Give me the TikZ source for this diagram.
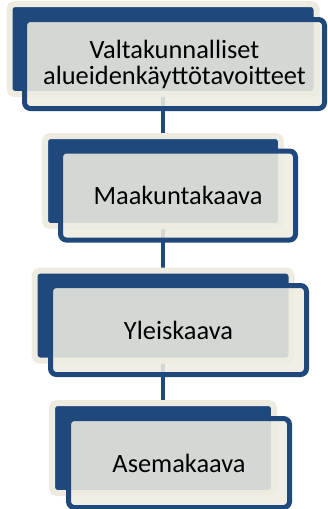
\documentclass[tikz,border=0pt]{standalone}
\usepackage{fontspec}
\setmainfont{Carlito}
\usepackage{xcolor}
\usetikzlibrary{backgrounds}
\definecolor{stepblue}{HTML}{1F497D}
\definecolor{stepcream}{HTML}{EEECE1}

\begin{document}
\begin{tikzpicture}[x=1pt,y=-1pt,
    backbox/.style={draw=stepcream, line width=6pt, fill=stepblue, rounded corners=5pt,
        minimum height=90pt, inner sep=0pt},
    frontbox/.style={draw=stepblue, line width=5pt, fill=stepcream, fill opacity=0.88,
        text opacity=1, rounded corners=6pt, minimum height=89pt, inner sep=0pt,
        align=center, font=\fontsize{26.4}{26}\selectfont},
    link/.style={draw=stepblue, line width=4.5pt}]
    \useasboundingbox (0,0) rectangle (327,509);
    % planning levels, back plates
    \node[backbox, minimum width=307pt] (back1) at (163,49) {};
    \node[backbox, minimum width=236pt] (back2) at (163,181) {};
    \node[backbox, minimum width=257pt] (back3) at (163,315.5) {};
    \node[backbox, minimum width=222pt] (back4) at (163,448) {};
    % text boxes
    \node[frontbox, minimum width=300pt] (level1) at (174.5,64) {Valtakunnalliset\\alueidenkäyttötavoitteet};
    \node[frontbox, minimum width=235pt] (level2) at (178,195.5) {Maakuntakaava};
    \node[frontbox, minimum width=256pt] (level3) at (178.5,330) {Yleiskaava};
    \node[frontbox, minimum width=221pt] (level4) at (179,463) {Asemakaava};

    \begin{scope}[on background layer]
        \draw[link] (back1.center) -- (back2.center);
        \draw[link] (back2.center) -- (back3.center);
        \draw[link] (back3.center) -- (back4.center);
    \end{scope}
\end{tikzpicture}
\end{document}
